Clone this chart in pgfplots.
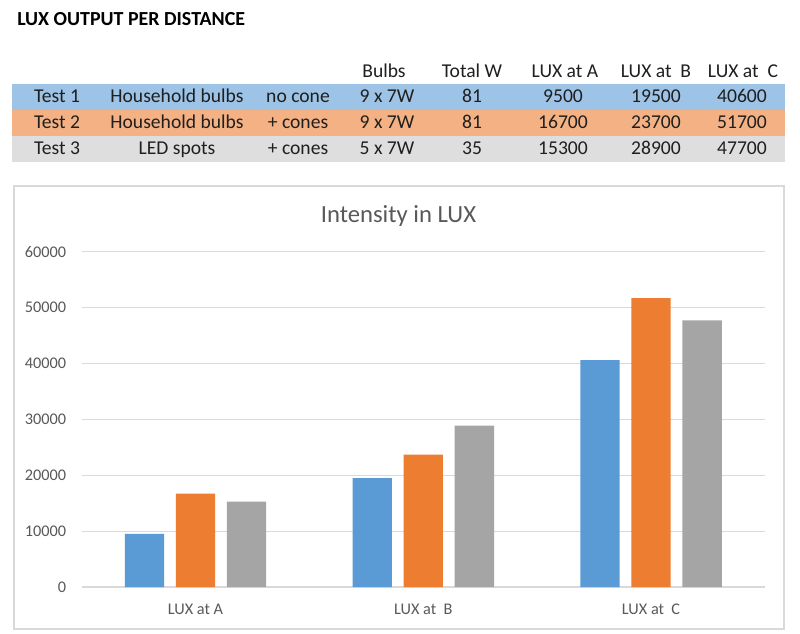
\documentclass[border=0pt]{standalone}
\usepackage{pgfplots}
\pgfplotsset{compat=1.18}
\usepackage{fontspec}
\setmainfont{Carlito}
\definecolor{sblue}{HTML}{5B9BD5}
\definecolor{sorange}{HTML}{ED7D31}
\definecolor{sgray}{HTML}{A5A5A5}
\definecolor{rblue}{HTML}{9DC3E6}
\definecolor{rorange}{HTML}{F4B183}
\definecolor{rgray}{HTML}{DEDEDE}
\definecolor{gridc}{HTML}{D9D9D9}
\definecolor{txtc}{HTML}{595959}
\begin{document}
\begin{tikzpicture}
\begin{scope}[x=0.75pt,y=-0.75pt]
% canvas
\fill[white] (0,0) rectangle (800,633);
% heading
\node[anchor=base west,inner sep=0,font=\fontsize{14.95pt}{16pt}\selectfont\bfseries] at (17,25) {LUX OUTPUT PER DISTANCE};
% table rows
\fill[rblue] (12,84) rectangle (785,109.5);
\fill[rorange] (12,110) rectangle (785,135.5);
\fill[rgray] (12,136) rectangle (785,161.5);
\begin{scope}[every node/.style={anchor=base,inner sep=0,font=\fontsize{14.7pt}{16pt}\selectfont,text=black!88}]
\node at (384,77) {Bulbs};
\node at (472,77) {Total W};
\node at (565,77) {LUX at A};
\node at (656,77) {LUX at\ \ B};
\node at (743,77) {LUX at\ \ C};
% row 1
\node at (57,102) {Test 1};
\node at (177,102) {Household bulbs};
\node at (298,102) {no cone};
\node at (387,102) {9 x 7W};
\node at (472,102) {81};
\node at (563,102) {9500};
\node at (656,102) {19500};
\node at (742,102) {40600};
% row 2
\node at (57,128) {Test 2};
\node at (177,128) {Household bulbs};
\node at (298,128) {+ cones};
\node at (387,128) {9 x 7W};
\node at (472,128) {81};
\node at (563,128) {16700};
\node at (656,128) {23700};
\node at (742,128) {51700};
% row 3
\node at (57,154) {Test 3};
\node at (177,154) {LED spots};
\node at (298,154) {+ cones};
\node at (387,154) {5 x 7W};
\node at (472,154) {35};
\node at (563,154) {15300};
\node at (656,154) {28900};
\node at (742,154) {47700};
\end{scope}
% chart frame
\draw[gridc,line width=0.9pt] (14,186) rectangle (784,629);
\node[anchor=base,inner sep=0,font=\fontsize{18.5pt}{20pt}\selectfont,text=txtc] at (398.5,222) {Intensity in LUX};
\end{scope}
\begin{axis}[
  at={(61.2pt,-440.3pt)}, anchor=south west,
  scale only axis, width=512.5pt, height=251.5pt,
  xmin=-0.5, xmax=2.5, ymin=0, ymax=60000,
  ybar=8.8pt, bar width=29.5pt,
  xtick={0,1,2}, xticklabels={LUX at A, LUX at\ \ B, LUX at\ \ C},
  ytick={0,10000,...,60000},
  axis line style={draw=none},
  major tick length=0pt,
  ymajorgrids, grid style={gridc,line width=0.9pt},
  scaled y ticks=false,
  /pgf/number format/assume math mode=true,
  yticklabel={\pgfmathprintnumber[fixed,1000 sep={}]{\tick}},
  ticklabel style={font=\fontsize{12.2pt}{14pt}\selectfont,text=txtc},
  yticklabel style={xshift=-8pt},
  xticklabel style={yshift=-9pt},
  clip=false,
]
\addplot[fill=sblue,draw=none] coordinates {(0,9500) (1,19500) (2,40600)};
\addplot[fill=sorange,draw=none] coordinates {(0,16700) (1,23700) (2,51700)};
\addplot[fill=sgray,draw=none] coordinates {(0,15300) (1,28900) (2,47700)};
\end{axis}
\end{tikzpicture}
\end{document}
